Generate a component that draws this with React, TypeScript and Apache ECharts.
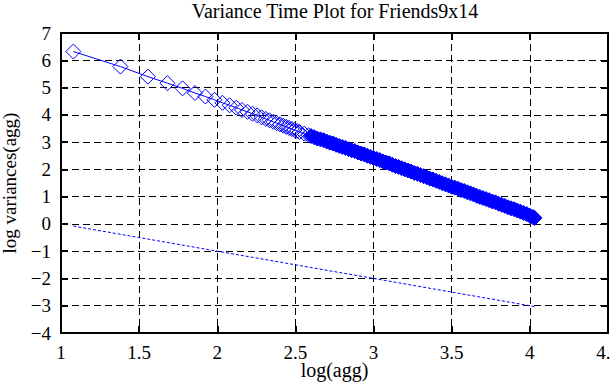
import React, { useEffect, useRef } from "react";
import * as echarts from "echarts";

const titleText = "Variance Time Plot for Friends9x14";
const xName = "log(agg)";
const yName = "log variances(agg)";

// log(agg) positions of the variance-time points
const logAgg: number[] = [
  1.079, 1.380, 1.556, 1.681, 1.778, 1.857, 1.924, 1.982, 2.033, 2.079,
  2.121, 2.158, 2.193, 2.225, 2.255, 2.283, 2.310, 2.334, 2.358, 2.380,
  2.401, 2.422, 2.441, 2.459, 2.477, 2.494, 2.511, 2.526, 2.556, 2.584,
  2.60, 2.62, 2.64, 2.66, 2.68, 2.70, 2.72, 2.74, 2.76, 2.78,
  2.80, 2.82, 2.84, 2.86, 2.88, 2.90, 2.92, 2.94, 2.96, 2.98,
  3.00, 3.02, 3.04, 3.06, 3.08, 3.10, 3.12, 3.14, 3.16, 3.18,
  3.20, 3.22, 3.24, 3.26, 3.28, 3.30, 3.32, 3.34, 3.36, 3.38,
  3.40, 3.42, 3.44, 3.46, 3.48, 3.50, 3.52, 3.54, 3.56, 3.58,
  3.60, 3.62, 3.64, 3.66, 3.68, 3.70, 3.72, 3.74, 3.76, 3.78,
  3.80, 3.82, 3.84, 3.86, 3.88, 3.90, 3.92, 3.94, 3.96, 3.98,
  4.00, 4.02, 4.03,
];

// log of the variances at each aggregation level
const logVar: number[] = [
  6.32, 5.77, 5.40, 5.16, 4.97, 4.80, 4.67, 4.55, 4.44, 4.35,
  4.26, 4.18, 4.11, 4.04, 3.98, 3.91, 3.85, 3.80, 3.74, 3.70,
  3.65, 3.60, 3.56, 3.52, 3.48, 3.44, 3.41, 3.37, 3.31, 3.25,
  3.22, 3.18, 3.13, 3.10, 3.07, 3.02, 2.98, 2.95, 2.90, 2.86,
  2.82, 2.79, 2.74, 2.70, 2.67, 2.62, 2.58, 2.55, 2.50, 2.46,
  2.42, 2.38, 2.34, 2.29, 2.25, 2.22, 2.17, 2.12, 2.09, 2.04,
  2.00, 1.96, 1.92, 1.87, 1.84, 1.79, 1.75, 1.71, 1.66, 1.63,
  1.58, 1.54, 1.49, 1.45, 1.41, 1.36, 1.33, 1.29, 1.24, 1.21,
  1.16, 1.12, 1.08, 1.03, 0.99, 0.95, 0.91, 0.87, 0.82, 0.79,
  0.74, 0.70, 0.66, 0.61, 0.57, 0.54, 0.49, 0.45, 0.40, 0.36,
  0.30, 0.25, 0.22,
];

// slope -1 reference line
const refX: number[] = [1.079, 4.03];
const refY: number[] = [-0.079, -3.03];

const xTicks = { min: 1, max: 4.5, interval: 0.5 };
const yTicks = { min: -4, max: 7, interval: 1 };

const FONT = "Liberation Serif";
const BLUE = "#0000ff";

export default function App() {
  const ref = useRef<HTMLDivElement>(null);
  useEffect(() => {
    if (!ref.current) return;
    const chart = echarts.init(ref.current, null, { renderer: "svg" });
    const minus = (v: number) => String(v).replace("-", "\u2212");
    const frameAxis = {
      axisLine: { show: true, onZero: false, lineStyle: { color: "#000", width: 2 } },
      axisTick: { show: true, inside: true, length: 7, lineStyle: { color: "#000", width: 2 } },
    };
    const mainData = logAgg.map((x, i) => {
      const dense = x >= 2.6;
      return {
        value: [x, logVar[i]],
        itemStyle: dense
          ? { color: BLUE, borderColor: BLUE, borderWidth: 1 }
          : { color: "rgba(0,0,0,0)", borderColor: BLUE, borderWidth: 1 },
      };
    });
    chart.setOption({
      animation: false,
      backgroundColor: "#fff",
      textStyle: { fontFamily: FONT, color: "#000" },
      graphic: [
        {
          type: "text",
          x: 335,
          y: 1,
          style: {
            text: titleText,
            fontFamily: FONT,
            fontSize: 20,
            fill: "#000",
            textAlign: "center",
            textVerticalAlign: "top",
          },
        },
      ],
      grid: {
        left: 61,
        top: 33,
        right: 3,
        bottom: 55,
        containLabel: false,
        outerBoundsMode: "none",
      },
      xAxis: [
        {
          type: "value",
          position: "bottom",
          ...xTicks,
          ...frameAxis,
          name: xName,
          nameLocation: "middle",
          nameGap: 27,
          nameMoveOverlap: false,
          nameTextStyle: { fontFamily: FONT, fontSize: 20, color: "#000" },
          axisLabel: { fontFamily: FONT, fontSize: 19, color: "#000", margin: 10 },
          splitLine: { show: true, lineStyle: { color: "#000", width: 1, type: [7, 4] } },
        },
        {
          type: "value",
          position: "top",
          ...xTicks,
          ...frameAxis,
          axisLabel: { show: false },
          splitLine: { show: false },
        },
      ],
      yAxis: [
        {
          type: "value",
          position: "left",
          ...yTicks,
          ...frameAxis,
          name: yName,
          nameLocation: "middle",
          nameRotate: 90,
          nameGap: 42,
          nameMoveOverlap: false,
          nameTextStyle: { fontFamily: FONT, fontSize: 19, color: "#000" },
          axisLabel: { fontFamily: FONT, fontSize: 19, color: "#000", margin: 10, formatter: minus },
          splitLine: { show: true, lineStyle: { color: "#000", width: 1, type: [7, 4] } },
        },
        {
          type: "value",
          position: "right",
          ...yTicks,
          ...frameAxis,
          axisLabel: { show: false },
          splitLine: { show: false },
        },
      ],
      series: [
        {
          type: "line",
          xAxisIndex: 0,
          yAxisIndex: 0,
          data: refX.map((x, i) => [x, refY[i]]),
          showSymbol: false,
          symbol: "none",
          lineStyle: { color: BLUE, width: 1, type: [3, 2] },
          silent: true,
        },
        {
          type: "line",
          xAxisIndex: 0,
          yAxisIndex: 0,
          data: mainData,
          symbol: "diamond",
          symbolSize: 15,
          showAllSymbol: true,
          lineStyle: { color: BLUE, width: 1 },
          silent: true,
        },
      ],
    });
    return () => chart.dispose();
  }, []);
  return (
    <div
      ref={ref}
      style={{ position: "fixed", left: 0, top: 0, width: 611, height: 388 }}
    />
  );
}
